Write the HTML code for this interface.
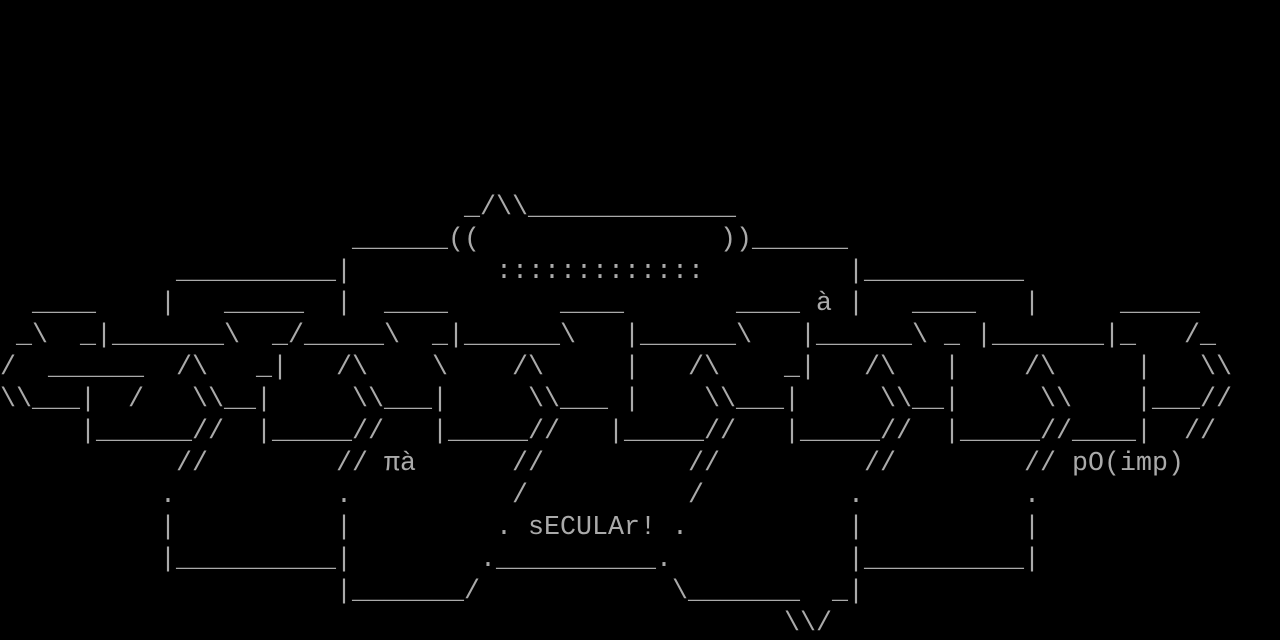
<!DOCTYPE html>
<html><head><meta charset="utf-8"><style>
html,body{margin:0;padding:0;background:#000;}
#c{position:relative;width:1280px;height:640px;overflow:hidden;background:#000;}
#c span{position:absolute;white-space:pre;font-family:"Liberation Mono","DejaVu Sans Mono",monospace;font-size:26.667px;line-height:32px;height:32px;color:#aaa;}
</style></head><body><div id="c">
<span style="left:464px;top:192px">_/\\_____________</span>
<span style="left:352px;top:224px">______((</span>
<span style="left:720px;top:224px">))______</span>
<span style="left:176px;top:256px">__________|</span>
<span style="left:496px;top:256px">:::::::::::::</span>
<span style="left:848px;top:256px">|__________</span>
<span style="left:32px;top:288px">____</span>
<span style="left:160px;top:288px">|</span>
<span style="left:224px;top:288px">_____</span>
<span style="left:336px;top:288px">|</span>
<span style="left:384px;top:288px">____</span>
<span style="left:560px;top:288px">____</span>
<span style="left:736px;top:288px">____</span>
<span style="left:816px;top:288px">à</span>
<span style="left:848px;top:288px">|</span>
<span style="left:912px;top:288px">____</span>
<span style="left:1024px;top:288px">|</span>
<span style="left:1120px;top:288px">_____</span>
<span style="left:16px;top:320px">_\</span>
<span style="left:80px;top:320px">_|_______\</span>
<span style="left:272px;top:320px">_/_____\</span>
<span style="left:432px;top:320px">_|______\</span>
<span style="left:624px;top:320px">|______\</span>
<span style="left:800px;top:320px">|______\</span>
<span style="left:944px;top:320px">_</span>
<span style="left:976px;top:320px">|_______|_</span>
<span style="left:1184px;top:320px">/_</span>
<span style="left:0px;top:352px">/</span>
<span style="left:48px;top:352px">______</span>
<span style="left:176px;top:352px">/\</span>
<span style="left:256px;top:352px">_|</span>
<span style="left:336px;top:352px">/\</span>
<span style="left:432px;top:352px">\</span>
<span style="left:512px;top:352px">/\</span>
<span style="left:624px;top:352px">|</span>
<span style="left:688px;top:352px">/\</span>
<span style="left:784px;top:352px">_|</span>
<span style="left:864px;top:352px">/\</span>
<span style="left:944px;top:352px">|</span>
<span style="left:1024px;top:352px">/\</span>
<span style="left:1136px;top:352px">|</span>
<span style="left:1200px;top:352px">\\</span>
<span style="left:0px;top:384px">\\___|</span>
<span style="left:128px;top:384px">/</span>
<span style="left:192px;top:384px">\\__|</span>
<span style="left:352px;top:384px">\\___|</span>
<span style="left:528px;top:384px">\\___</span>
<span style="left:624px;top:384px">|</span>
<span style="left:704px;top:384px">\\___|</span>
<span style="left:880px;top:384px">\\__|</span>
<span style="left:1040px;top:384px">\\</span>
<span style="left:1136px;top:384px">|___//</span>
<span style="left:80px;top:416px">|______//</span>
<span style="left:256px;top:416px">|_____//</span>
<span style="left:432px;top:416px">|_____//</span>
<span style="left:608px;top:416px">|_____//</span>
<span style="left:784px;top:416px">|_____//</span>
<span style="left:944px;top:416px">|_____//____|</span>
<span style="left:1184px;top:416px">//</span>
<span style="left:176px;top:448px">//</span>
<span style="left:336px;top:448px">//</span>
<span style="left:384px;top:448px">πà</span>
<span style="left:512px;top:448px">//</span>
<span style="left:688px;top:448px">//</span>
<span style="left:864px;top:448px">//</span>
<span style="left:1024px;top:448px">// pO(imp)</span>
<span style="left:160px;top:480px">.</span>
<span style="left:336px;top:480px">.</span>
<span style="left:512px;top:480px">/</span>
<span style="left:688px;top:480px">/</span>
<span style="left:848px;top:480px">.</span>
<span style="left:1024px;top:480px">.</span>
<span style="left:160px;top:512px">|</span>
<span style="left:336px;top:512px">|</span>
<span style="left:496px;top:512px">. sECULAr! .</span>
<span style="left:848px;top:512px">|</span>
<span style="left:1024px;top:512px">|</span>
<span style="left:160px;top:544px">|__________|</span>
<span style="left:480px;top:544px">.__________.</span>
<span style="left:848px;top:544px">|__________|</span>
<span style="left:336px;top:576px">|_______/</span>
<span style="left:672px;top:576px">\_______</span>
<span style="left:832px;top:576px">_|</span>
<span style="left:784px;top:608px">\\/</span>
</div></body></html>
